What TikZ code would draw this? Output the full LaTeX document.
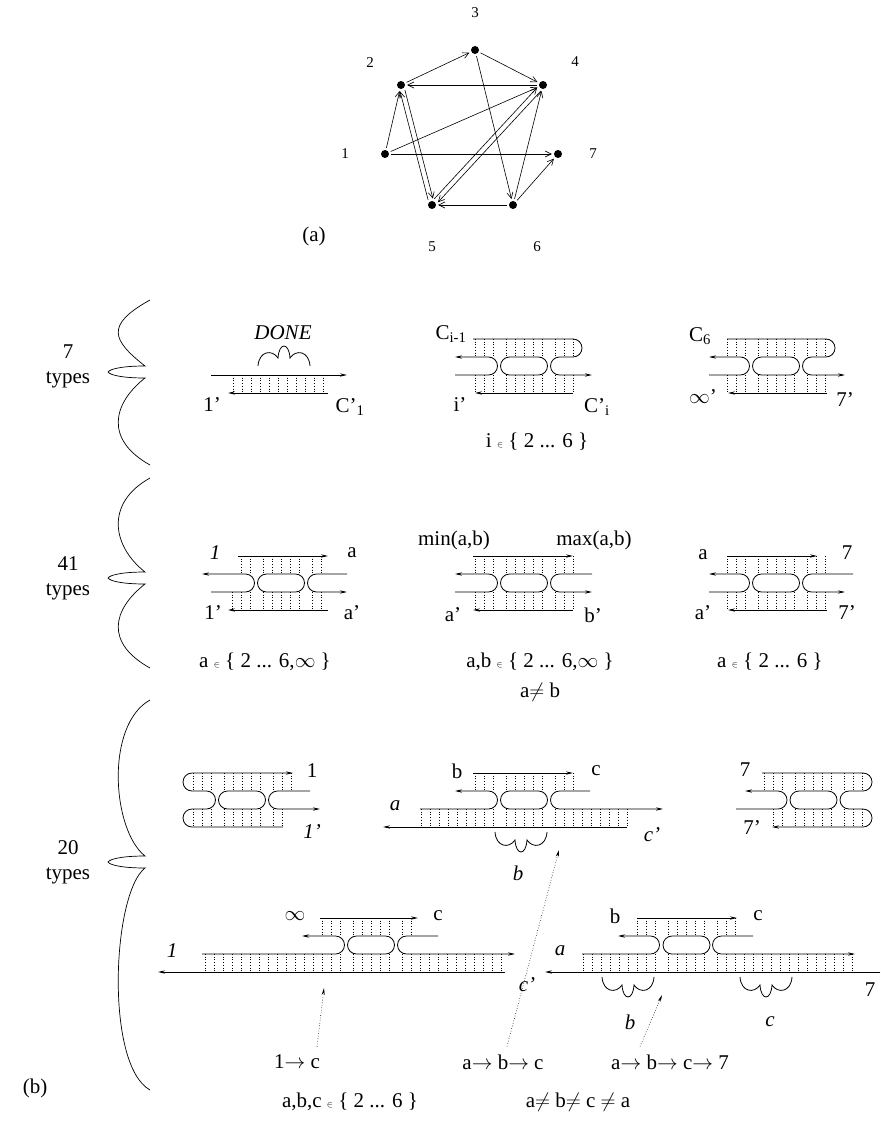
\documentclass[tikz,border=0pt]{standalone}
\usepackage{fontspec}
\setmainfont{Liberation Serif}
\usetikzlibrary{arrows.meta,calc}

\newcommand\dnarungs[6]{%
  \foreach \k in {-30,...,30}{%
    \pgfmathsetmacro\xx{#1+9*(\k)+(\k>2)*#6-(\k<-2)*#6}%
    \pgfmathparse{and(\xx>=#2-1,\xx<=#3+1)}%
    \ifdim\pgfmathresult pt>0.5pt \draw[rung] (\xx,#4) -- (\xx,#5);\fi}}
\newcommand\loopoval[2]{\draw[strand,rounded corners=9pt] (#1-23.5,#2) rectangle (#1+23.5,#2+18);}
\newcommand\bulge[3]{\draw[strand,shift={(#1,#2)},yscale=#3] (-26,0) .. controls (-25,-15) and (-12,-17) .. (-6,-8) .. controls (-5,-24) and (5,-24) .. (6,-8) .. controls (12,-17) and (25,-15) .. (26,0);}
\newcommand\wavybrace[3]{\draw[brace] (150,#1) .. controls (105,#1+25) and (112,#2-32) .. (145,#2-6) .. controls (122,#2-6) and (110,#2-3) .. (108,#2) .. controls (110,#2+3) and (122,#2+6) .. (145,#2+6) .. controls (112,#2+32) and (105,#3-25) .. (150,#3);}

\begin{document}
\begin{tikzpicture}[x=1pt,y=-1pt,>={Stealth[length=7pt,width=3.2pt]},
 strand/.style={line width=0.8pt},
 rung/.style={line width=0.45pt,dash pattern=on 0.9pt off 1.8pt},
 dot/.style={circle,fill=black,inner sep=0pt,minimum size=8pt},
 edge/.style={line width=0.6pt,-{Straight Barb[length=6pt,width=6pt]},shorten >=2pt,shorten <=2pt},
 gl/.style={font=\fontsize{15}{15}\selectfont,inner sep=0pt},
 lb/.style={font=\fontsize{21}{21}\selectfont,inner sep=0pt},
 it/.style={font=\fontsize{21}{21}\selectfont\itshape,inner sep=0pt},
 pointer/.style={line width=0.6pt,dotted,-{Stealth[length=7pt,width=3pt]}},
 brace/.style={line width=0.7pt}]
\useasboundingbox (0,0) rectangle (880,1123);

% (a)
\node[dot] (v1) at (385,154) {};
\node[dot] (v2) at (401,85) {};
\node[dot] (v3) at (475,50) {};
\node[dot] (v4) at (543,85) {};
\node[dot] (v5) at (432,205) {};
\node[dot] (v6) at (513,205) {};
\node[dot] (v7) at (558,154) {};
\foreach \n/\x/\y in {1/345/154,2/370/63,3/475/13,4/575/62,5/432/247,6/537/247,7/593/154}
  \node[gl] (n\n) at (\x,\y) {\n};
\foreach \a/\b in {v2/v3,v3/v4,v4/v2,v1/v2,v1/v4,v1/v7,v3/v6,v6/v5,v6/v4,v6/v7}
  \draw[edge] (\a) -- (\b);
\foreach \a/\b in {v2/v5,v5/v2,v4/v5,v5/v4}
  \draw[edge,shorten <=6pt,shorten >=6pt] ($(\a)!2.5pt!90:(\b)$) -- ($(\b)!2.5pt!-90:(\a)$);
\node[lb] (pa) at (314,236) {(a)};

% braces
\wavybrace{300}{372}{465}
\wavybrace{478}{578}{668}
\wavybrace{700}{862}{1090}
\node[lb,align=center] (t7) at (68,366) {7\\[4pt]types};
\node[lb,align=center] (t41) at (68,578) {41\\[4pt]types};
\node[lb,align=center] (t20) at (68,862) {20\\[4pt]types};
\node[lb] (pb) at (35,1088) {(b)};

% 7 types
\draw[strand,->] (211,375) -- (347,375);
\draw[strand,->] (328,393) -- (228,393);
\dnarungs{278}{228}{328}{375}{393}{0}
\bulge{284}{366}{1}
\node[it] (done) at (283,333) {DONE};
\node[lb] (d1) at (212,405) {1'};
\node[lb] (dc) at (350,407) {C'\textsubscript{1}};

\draw[strand,->,rounded corners=9pt] (473,339) -- (582,339) -- (582,357) -- (550.5,357) -- (550.5,375) -- (592,375);
\draw[strand,<-,rounded corners=9pt] (455,357) -- (497.5,357) -- (497.5,375) -- (455,375);
\loopoval{524}{357}
\draw[strand,->] (573,393) -- (475,393);
\dnarungs{524}{473}{573}{339}{357}{4}
\dnarungs{524}{475}{573}{375}{393}{4}
\node[lb] (ci) at (451,334) {C\textsubscript{i-1}};
\node[lb] (ip) at (460,405) {i'};
\node[lb] (cip) at (597,407) {C'\textsubscript{i}};
\node[lb] (iset) at (537,442) {i {\small$\in$} \{ 2 ... 6 \}};

\draw[strand,->,rounded corners=9pt] (727,339) -- (835,339) -- (835,357) -- (802.5,357) -- (802.5,375) -- (845,375);
\draw[strand,<-,rounded corners=9pt] (709,357) -- (749.5,357) -- (749.5,375) -- (709,375);
\loopoval{776}{357}
\draw[strand,->] (827,393) -- (728,393);
\dnarungs{776}{727}{827}{339}{357}{4}
\dnarungs{776}{728}{827}{375}{393}{4}
\node[lb] (c6) at (700,336) {C\textsubscript{6}};
\node[lb] (infp) at (703,397) {$\infty$'};
\node[lb] (s7p) at (845,400) {7'};

% 41 types
\draw[strand,->] (238,556) -- (328,556);
\draw[strand,<-,rounded corners=9pt] (202,574) -- (254.5,574) -- (254.5,592) -- (211,592);
\loopoval{281}{574}
\draw[strand,->,rounded corners=9pt] (347,574) -- (307.5,574) -- (307.5,592) -- (347,592);
\draw[strand,->] (328,610) -- (228,610);
\dnarungs{281}{238}{328}{556}{574}{4}
\dnarungs{281}{228}{328}{592}{610}{4}
\node[it] (fa1) at (215,553) {1};
\node[lb] (fa) at (352,553) {a};
\node[lb] (fa1p) at (213,613) {1'};
\node[lb] (fap) at (352,613) {a'};
\node[lb] (faset) at (265,662) {a {\small$\in$} \{ 2 ... 6,$\infty$ \}};

\draw[strand,->] (473,556) -- (573,556);
\draw[strand,<-,rounded corners=9pt] (455,574) -- (497.5,574) -- (497.5,592) -- (455,592);
\loopoval{524}{574}
\draw[strand,->,rounded corners=9pt] (592,574) -- (550.5,574) -- (550.5,592) -- (592,592);
\draw[strand,->] (573,610) -- (473,610);
\dnarungs{524}{473}{573}{556}{574}{4}
\dnarungs{524}{473}{573}{592}{610}{4}
\node[lb] (fmin) at (454,540) {min(a,b)};
\node[lb] (fmax) at (594,540) {max(a,b)};
\node[lb] (fap2) at (453,615) {a'};
\node[lb] (fbp) at (593,615) {b'};
\node[lb] (fabset) at (540,662) {a,b {\small$\in$} \{ 2 ... 6,$\infty$ \}};
\node[lb] (fneq) at (540,692) {a$\neq$ b};

\draw[strand,->] (727,556) -- (817,556);
\draw[strand,<-,rounded corners=9pt] (709,574) -- (749.5,574) -- (749.5,592) -- (709,592);
\loopoval{776}{574}
\draw[strand,->,rounded corners=9pt] (853,574) -- (802.5,574) -- (802.5,592) -- (845,592);
\draw[strand,->] (827,610) -- (728,610);
\dnarungs{776}{727}{827}{556}{574}{4}
\dnarungs{776}{728}{827}{592}{610}{4}
\node[lb] (ga) at (703,555) {a};
\node[lb] (gap) at (703,613) {a'};
\node[lb] (g7) at (847,553) {7};
\node[lb] (g7p) at (847,613) {7'};
\node[lb] (gaset) at (770,662) {a {\small$\in$} \{ 2 ... 6 \}};

% 20 types, upper
\draw[strand,->,rounded corners=9pt] (283,827) -- (183,827) -- (183,809) -- (215.5,809) -- (215.5,791) -- (183,791) -- (183,773) -- (293,773);
\loopoval{242}{791}
\draw[strand,->,rounded corners=9pt] (310,791) -- (268.5,791) -- (268.5,809) -- (320,809);
\dnarungs{242}{188}{293}{773}{791}{4}
\dnarungs{242}{188}{283}{809}{827}{4}
\node[lb] (h1) at (312,771) {1};
\node[it] (h1p) at (312,832) {1'};

\draw[strand,->] (473,773) -- (573,773);
\draw[strand,<-,rounded corners=9pt] (455,791) -- (497.5,791) -- (497.5,809) -- (420,809);
\loopoval{524}{791}
\draw[strand,->,rounded corners=9pt] (590,791) -- (550.5,791) -- (550.5,809) -- (663,809);
\draw[strand,->] (627,827) -- (383,827);
\dnarungs{524}{473}{573}{773}{791}{4}
\dnarungs{524}{420}{627}{809}{827}{4}
\bulge{521}{832}{-1}
\node[lb] (hb) at (457,771) {b};
\node[lb] (hc) at (596,771) {c};
\node[it] (ha) at (395,806) {a};
\node[it] (hcp) at (652,835) {c'};
\node[it] (hbb) at (518,873) {b};

\draw[strand,->,rounded corners=9pt] (762,773) -- (872,773) -- (872,791) -- (840,791) -- (840,809) -- (872,809) -- (872,827) -- (772,827);
\draw[strand,<-,rounded corners=9pt] (745,791) -- (787,791) -- (787,809) -- (736,809);
\loopoval{813.5}{791}
\dnarungs{813.5}{762}{863}{773}{791}{4}
\dnarungs{813.5}{772}{863}{809}{827}{4}
\node[lb] (h7) at (745,770) {7};
\node[lb] (h7p) at (752,828) {7'};

% 20 types, lower
\draw[strand,->] (320,918) -- (418,918);
\draw[strand,<-,rounded corners=9pt] (302,936) -- (344.5,936) -- (344.5,954) -- (202,954);
\loopoval{371}{936}
\draw[strand,->,rounded corners=9pt] (438,936) -- (397.5,936) -- (397.5,954) -- (515,954);
\draw[strand,->] (505,972) -- (158,972);
\dnarungs{371}{320}{418}{918}{936}{4}
\dnarungs{371}{202}{505}{954}{972}{4}
\node[lb] (kinf) at (295,916) {$\infty$};
\node[lb] (kc) at (438,916) {c};
\node[it] (k1) at (172,951) {1};
\node[it] (kcp) at (527,985) {c'};

\draw[strand,->] (637,918) -- (737,918);
\draw[strand,<-,rounded corners=9pt] (618,936) -- (659.5,936) -- (659.5,954) -- (582,954);
\loopoval{686.5}{936}
\draw[strand,->,rounded corners=9pt] (753,936) -- (712.5,936) -- (712.5,954) -- (855,954);
\draw[strand,->] (880,972) -- (545,972);
\dnarungs{686.5}{637}{737}{918}{936}{4}
\dnarungs{686.5}{582}{855}{954}{972}{4}
\bulge{628}{977}{-1}
\bulge{766}{977}{-1}
\node[lb] (mb) at (615,916) {b};
\node[lb] (mc) at (758,916) {c};
\node[it] (ma) at (560,951) {a};
\node[lb] (m7) at (870,990) {7};
\node[it] (mbb) at (630,1022) {b};
\node[it] (mcc) at (770,1022) {c};

\node[lb] (p1) at (297,1062) {1$\rightarrow$ c};
\node[lb] (p2) at (503,1062) {a$\rightarrow$ b$\rightarrow$ c};
\node[lb] (p3) at (670,1062) {a$\rightarrow$ b$\rightarrow$ c$\rightarrow$ 7};
\node[lb] (q1) at (350,1102) {a,b,c {\small$\in$} \{ 2 ... 6 \}};
\node[lb] (q2) at (578,1102) {a$\neq$ b$\neq$ c $\neq$ a};
\coordinate (e1) at (324,988);
\coordinate (e2) at (559,850);
\coordinate (e3) at (662,995);
\draw[pointer] (p1.north) ++(20,-8) -- (e1);
\draw[pointer] (p2.north) ++(4,-8) -- (e2);
\draw[pointer] (p3.north) ++(-30,-8) -- (e3);
\end{tikzpicture}
\end{document}
